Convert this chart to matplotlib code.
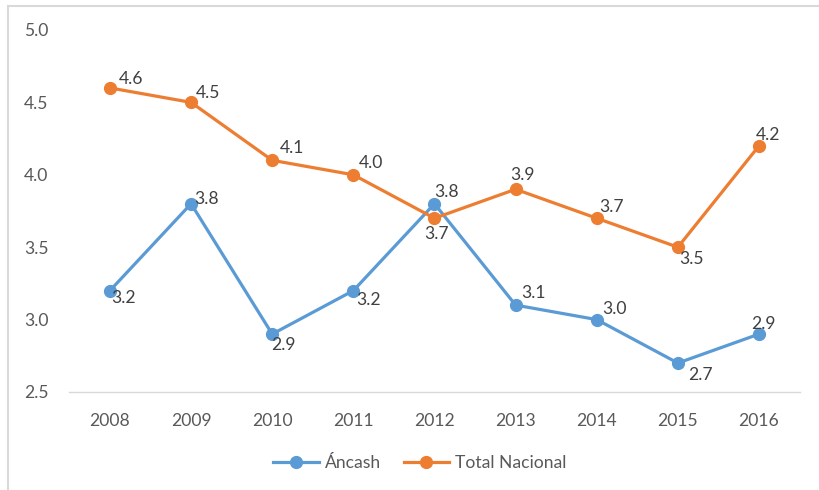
import matplotlib
matplotlib.use('Agg')
import matplotlib.pyplot as plt
from matplotlib.lines import Line2D

years = ['2008', '2009', '2010', '2011', '2012', '2013', '2014', '2015', '2016']
ancash = [3.2, 3.8, 2.9, 3.2, 3.8, 3.1, 3.0, 2.7, 2.9]
nacional = [4.6, 4.5, 4.1, 4.0, 3.7, 3.9, 3.7, 3.5, 4.2]
y_ticks = [2.5, 3.0, 3.5, 4.0, 4.5, 5.0]

# label offsets in pixels (x right, y up) - Excel puts them a bit everywhere
off_ancash = [(14, -7), (15, 5), (11, -11), (15, -9), (12, 12), (18, 12), (18, 11), (23, -12), (4, 10)]
off_nacional = [(21, 9), (17, 9), (20, 12), (18, 12), (2, -16), (7, 14), (15, 11), (14, -12), (9, 11)]

blue = '#5B9BD5'
orange = '#ED7D31'
txt = '#595959'
fs = 12.6

plt.rcParams['font.family'] = ['Lato', 'DejaVu Sans']

fig = plt.figure(figsize=(8.2, 4.9), dpi=100)
ax = fig.add_axes([0.0846, 0.2, 0.8905, 0.7388])

x = list(range(len(years)))
ax.plot(x, ancash, color=blue, lw=2.3, marker='o', ms=8.5, label='Áncash',
        solid_capstyle='round', zorder=3)
ax.plot(x, nacional, color=orange, lw=2.3, marker='o', ms=8.5, label='Total Nacional',
        solid_capstyle='round', zorder=3)

for i in x:
    ax.annotate('{:.1f}'.format(ancash[i]), (i, ancash[i]), xytext=off_ancash[i],
                textcoords='offset pixels', ha='center', va='center',
                fontsize=fs, color='#404040', zorder=4)
    ax.annotate('{:.1f}'.format(nacional[i]), (i, nacional[i]), xytext=off_nacional[i],
                textcoords='offset pixels', ha='center', va='center',
                fontsize=fs, color='#404040', zorder=4)

ax.set_xlim(-0.5, len(years) - 0.5)
ax.set_ylim(2.5, 5.0)
ax.set_xticks(x)
ax.set_xticklabels(years)
ax.set_yticks(y_ticks)
ax.set_yticklabels(['{:.1f}'.format(v) for v in y_ticks])
ax.tick_params(axis='both', length=0, labelsize=fs, labelcolor=txt)
ax.tick_params(axis='x', pad=15)
ax.tick_params(axis='y', pad=15)

for s in ['top', 'right', 'left']:
    ax.spines[s].set_visible(False)
ax.spines['bottom'].set_color('#D9D9D9')
ax.spines['bottom'].set_linewidth(1.0)

h1 = Line2D([], [], color=blue, lw=2.3, marker='o', ms=8.5)
h2 = Line2D([], [], color=orange, lw=2.3, marker='o', ms=8.5)
leg = fig.legend([h1, h2], ['Áncash', 'Total Nacional'], loc='center',
                 bbox_to_anchor=(420 / 820, 1 - 463 / 490), ncol=2, frameon=False,
                 fontsize=fs, handlelength=2.6, handletextpad=0.35, columnspacing=1.3)
for t in leg.get_texts():
    t.set_color(txt)

# chart border (only top and left visible in the screenshot)
fig.add_artist(Line2D([8 / 820, 8 / 820], [0, 1 - 6 / 490], color='#D9D9D9', lw=1.5,
                      transform=fig.transFigure))
fig.add_artist(Line2D([8 / 820, 1], [1 - 6 / 490, 1 - 6 / 490], color='#D9D9D9', lw=1.5,
                      transform=fig.transFigure))

fig.savefig('out.png', dpi=100)
